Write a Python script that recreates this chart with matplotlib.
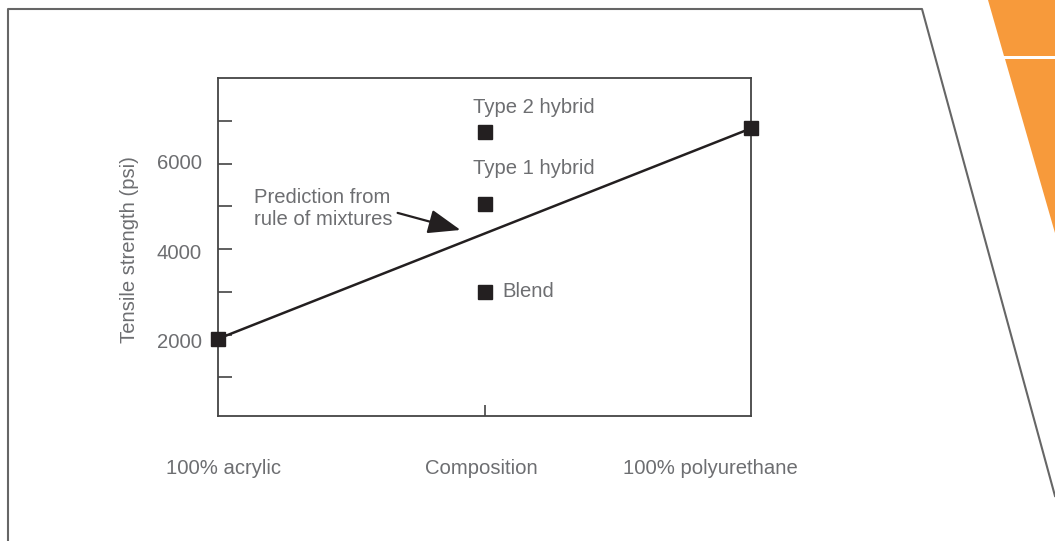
import matplotlib.pyplot as plt
from matplotlib.patches import Polygon
from matplotlib.lines import Line2D

plt.rcParams['font.family'] = ['Liberation Sans', 'DejaVu Sans']

# data (composition fraction of polyurethane, psi)
end_x = [0.0, 1.0]
end_y = [1900, 6830]
sample_names = ['Type 2 hybrid', 'Type 1 hybrid', 'Blend']
sample_x = [0.5, 0.5, 0.5]
sample_y = [6740, 5060, 3000]
y_ticks = [1000, 2000, 3000, 4000, 5000, 6000, 7000]
y_labels = ['2000', '4000', '6000']
x_labels = ['100% acrylic', 'Composition', '100% polyurethane']

W, H = 1055, 541
gray = '#6d6e71'
dark = '#231f20'
fs = 14.6

fig = plt.figure(figsize=(W / 100, H / 100), dpi=100)

def px(x, y):
    return (x / W, 1 - y / H)

# slide frame and orange decoration
frame = [px(8, H + 5), px(8, 9), px(922, 9), px(1055, 496)]
fig.add_artist(Line2D([p[0] for p in frame], [p[1] for p in frame],
                      color='#666666', lw=1.5, transform=fig.transFigure))
fig.add_artist(Polygon([px(988, 0), px(W, 0), px(W, 56), px(1004, 56)],
                       closed=True, color='#f79a3b', lw=0, transform=fig.transFigure))
fig.add_artist(Polygon([px(1005, 59), px(W, 59), px(W, 233)],
                       closed=True, color='#f79a3b', lw=0, transform=fig.transFigure))

ax = fig.add_axes([218 / W, 1 - 416 / H, (751 - 218) / W, (416 - 78) / H])
ax.set_xlim(0, 1)
ax.set_ylim(92, 8010)
for s in ax.spines.values():
    s.set_color('#444444')
    s.set_linewidth(1.3)

ax.set_yticks(y_ticks)
ax.set_yticklabels([])
ax.tick_params(axis='y', direction='in', length=10, width=1.2, color='#444444')
ax.set_xticks([0.5])
ax.set_xticklabels([])
ax.tick_params(axis='x', direction='in', length=8, width=1.2, color='#444444')

# y tick labels, as placed in the reference
label_y = [1820, 3900, 6000]
for v, t in zip(label_y, y_labels):
    ax.text(-0.03, v, t, ha='right', va='center', fontsize=fs, color=gray)

ax.text(-0.166, 4000, 'Tensile strength (psi)', rotation=90, ha='center',
        va='center', fontsize=fs, color=gray)

# rule of mixtures line and points
ax.plot(end_x, end_y, color=dark, lw=1.8, marker='s', markersize=9.5,
        clip_on=False, zorder=5)
ax.plot(sample_x, sample_y, 's', color=dark, markersize=9.5, zorder=5)

ax.text(0.478, 7310, sample_names[0], ha='left', va='center', fontsize=fs, color=gray)
ax.text(0.478, 5900, sample_names[1], ha='left', va='center', fontsize=fs, color=gray)
ax.text(0.533, 3000, sample_names[2], ha='left', va='center', fontsize=fs, color=gray)

ax.text(0.068, 4950, 'Prediction from\nrule of mixtures', ha='left', va='center',
        fontsize=fs, color=gray, linespacing=1.15)
ax.annotate('', xy=(0.455, 4450), xytext=(0.337, 4850),
            arrowprops=dict(arrowstyle='-|>,head_length=2.0,head_width=0.75',
                            color=dark, lw=1.6, shrinkA=0, shrinkB=0))

# composition labels under the axis
for xc, t in zip([223, 481, 710], x_labels):
    fig.text(xc / W, 1 - 469 / H, t, ha='center', va='center', fontsize=fs, color=gray)

fig.savefig('out.png', dpi=100)
